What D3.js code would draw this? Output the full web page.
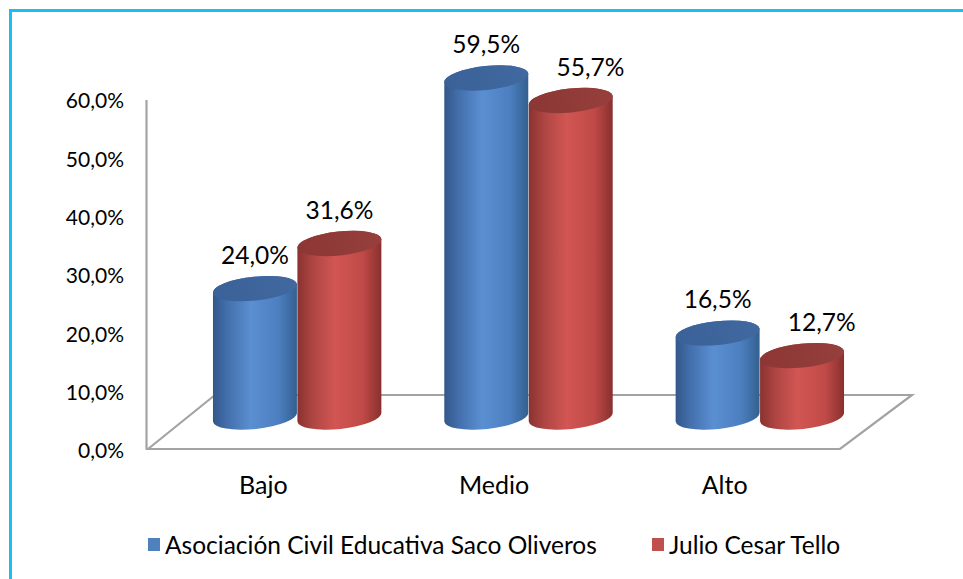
<!DOCTYPE html>
<html>
<head>
<meta charset="utf-8">
<script src="https://cdn.jsdelivr.net/npm/d3@7"></script>
<style>
  body { margin: 0; background: #fff; }
  svg { display: block; }
  text { font-family: Lato, "Liberation Sans", sans-serif; fill: #000; }
</style>
</head>
<body>
<svg id="chart" width="963" height="579"></svg>
<script>
// chart data
var categories = ["Bajo", "Medio", "Alto"];
var seriesNames = ["Asociación Civil Educativa Saco Oliveros", "Julio Cesar Tello"];
var sacoOliveros = [24.0, 59.5, 16.5];
var julioCesarTello = [31.6, 55.7, 12.7];
var yTicks = [0, 10, 20, 30, 40, 50, 60];

var seriesValues = [sacoOliveros, julioCesarTello];
var seriesKeys = ["blue", "red"];

var svg = d3.select("#chart");
var defs = svg.append("defs");

var locale = d3.formatLocale({decimal: ",", thousands: ".", grouping: [3], currency: ["", ""]});
var pct = function(v) { return locale.format(".1f")(v) + "%"; };

// outer frame
svg.append("rect")
  .attr("x", 10.5).attr("y", 10.5)
  .attr("width", 1000).attr("height", 1000)
  .attr("fill", "none")
  .attr("stroke", "#1cbdf3")
  .attr("stroke-width", 3);

// scales: front plane for the axis/labels, middle depth for the cylinders
var floorFront = 449, floorBack = 395, depthShift = 67;
var yAxis = d3.scaleLinear().domain([0, 60]).range([floorFront + 2, 101]);
var yBar = d3.scaleLinear().domain([0, 60]).range([431, 75]);
var xFront = d3.scaleBand().domain(categories).range([148, 840]);
var xMid = d3.scaleBand().domain(categories)
  .range([148 + depthShift / 2, 840 + depthShift / 2 + 2])
  .paddingInner(0.27).paddingOuter(0.135);
var xSeries = d3.scaleBand().domain(seriesKeys).range([0, xMid.bandwidth()]);

// floor and wall edge
var grey = "#a3a3a3";
svg.append("path")
  .attr("d", d3.line()([
    [148, floorFront], [148 + depthShift, floorBack],
    [840 + 72, floorBack], [840, floorFront]
  ]) + "Z")
  .attr("fill", "none").attr("stroke", grey).attr("stroke-width", 2.2);
svg.append("line")
  .attr("x1", 146.5).attr("x2", 146.5)
  .attr("y1", yAxis(60) - 1).attr("y2", floorFront)
  .attr("stroke", grey).attr("stroke-width", 2.2);

// y axis labels
var axisG = svg.append("g")
  .attr("transform", "translate(124,0)")
  .call(d3.axisLeft(yAxis).tickValues(yTicks).tickSize(0).tickPadding(0).tickFormat(pct));
axisG.select(".domain").remove();
axisG.selectAll("text")
  .attr("font-size", 21).attr("font-family", "Lato, sans-serif").attr("fill", "#000");

// gradients
var palettes = {
  blue: {body: ["#33578a", "#4470ad", "#5a8fd2", "#4c7fc0", "#34608f"], top: ["#3a6298", "#42699f"]},
  red: {body: ["#8a3230", "#ad4542", "#d25653", "#bf4a47", "#88302e"], top: ["#8c3735", "#963f3c"]}
};
seriesKeys.forEach(function(k) {
  var g = defs.append("linearGradient").attr("id", "body-" + k)
    .attr("x1", 0).attr("x2", 1).attr("y1", 0).attr("y2", 0);
  [0, 0.18, 0.45, 0.78, 1].forEach(function(o, i) {
    g.append("stop").attr("offset", o).attr("stop-color", palettes[k].body[i]);
  });
  var t = defs.append("linearGradient").attr("id", "top-" + k)
    .attr("x1", 0).attr("x2", 1).attr("y1", 0).attr("y2", 0);
  t.append("stop").attr("offset", 0).attr("stop-color", palettes[k].top[0]);
  t.append("stop").attr("offset", 1).attr("stop-color", palettes[k].top[1]);
});

// cylinders
var rot = -6, ry = 12;
var cosA = Math.cos(rot * Math.PI / 180), sinA = Math.sin(rot * Math.PI / 180);
var baseY = (floorFront + floorBack) / 2 - 5;

var bars = [];
categories.forEach(function(c, ci) {
  seriesKeys.forEach(function(k, si) {
    bars.push({cat: c, key: k, si: si, value: seriesValues[si][ci]});
  });
});
// red sits behind blue
var drawOrder = bars.slice().sort(function(a, b) { return b.si - a.si; });

var barG = svg.append("g");
drawOrder.forEach(function(d) {
  var rx = xSeries.bandwidth() / 2;
  var cx = xMid(d.cat) + xSeries(d.key) + rx;
  var topY = yBar(d.value);
  d.cx = cx; d.topY = topY; d.rx = rx;
  var dx = rx * cosA, dy = rx * sinA;
  var body = "M" + (cx - dx) + "," + (topY - dy) +
    "L" + (cx - dx) + "," + (baseY - dy) +
    "A" + rx + "," + ry + " " + rot + " 0 0 " + (cx + dx) + "," + (baseY + dy) +
    "L" + (cx + dx) + "," + (topY + dy) +
    "A" + rx + "," + ry + " " + rot + " 0 0 " + (cx - dx) + "," + (topY - dy) + "Z";
  var g = barG.append("g");
  g.append("path").attr("d", body).attr("fill", "url(#body-" + d.key + ")");
  g.append("ellipse")
    .attr("cx", cx).attr("cy", topY).attr("rx", rx).attr("ry", ry)
    .attr("transform", "rotate(" + rot + "," + cx + "," + topY + ")")
    .attr("fill", "url(#top-" + d.key + ")");
});

// value labels
var labelG = svg.append("g");
bars.forEach(function(d) {
  var t = labelG.append("text")
    .attr("x", d.cx).attr("y", d.topY - 25)
    .attr("text-anchor", "middle")
    .attr("font-size", 24.5)
    .text(pct(d.value));
  // keep a back-series label well clear of a taller front cylinder
  if (d.si === 1) {
    var left = bars.find(function(b) { return b.cat === d.cat && b.si === 0; });
    var bb = t.node().getBBox();
    var edge = left.cx + left.rx + 28;
    if (left.topY < d.topY - 15 && bb.x < edge) {
      t.attr("x", d.cx + (edge - bb.x));
    }
  }
});

// category labels
svg.append("g").selectAll("text")
  .data(categories).join("text")
  .attr("x", function(c) { return xFront(c) + xFront.bandwidth() / 2; })
  .attr("y", 494)
  .attr("text-anchor", "middle")
  .attr("font-size", 25)
  .text(function(c) { return c; });

// legend
var legendX = [148, 652];
var legend = svg.append("g").selectAll("g")
  .data(seriesNames).join("g")
  .attr("transform", function(d, i) { return "translate(" + legendX[i] + ",538)"; });
legend.append("rect")
  .attr("width", 12).attr("height", 13)
  .attr("fill", function(d, i) { return i === 0 ? "#4f81bd" : "#c0504d"; });
legend.append("text")
  .attr("x", 17).attr("y", 15.5)
  .attr("font-size", 24.5)
  .text(function(d) { return d; });
</script>
</body>
</html>
